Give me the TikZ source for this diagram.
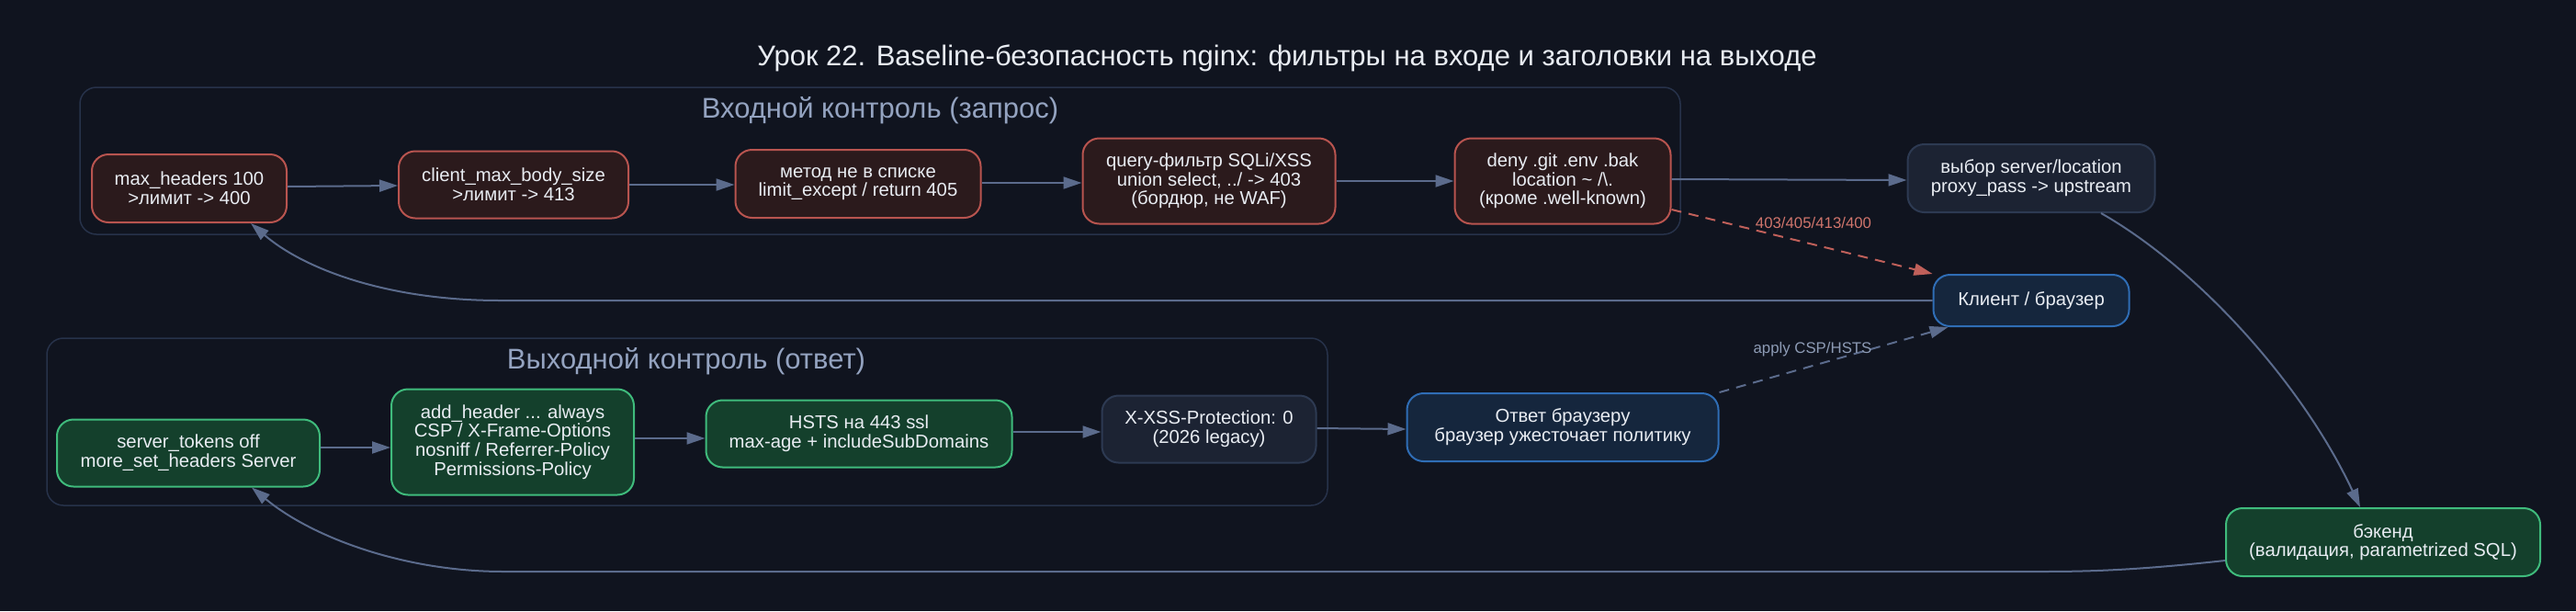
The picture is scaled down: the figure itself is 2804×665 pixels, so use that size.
\documentclass[tikz,border=0pt]{standalone}
\usepackage{fontspec}
\setmainfont{Liberation Sans}
\usetikzlibrary{arrows.meta,calc}
\definecolor{bgc}{HTML}{10141F}
\definecolor{txtc}{HTML}{E8ECF2}
\definecolor{clline}{HTML}{27324A}
\definecolor{cllabel}{HTML}{94A3C0}
\definecolor{redfill}{HTML}{2B1A1C}
\definecolor{redline}{HTML}{B8544F}
\definecolor{greenfill}{HTML}{14402C}
\definecolor{greenline}{HTML}{3FBB7C}
\definecolor{bluefill}{HTML}{15263D}
\definecolor{blueline}{HTML}{2F6DB5}
\definecolor{greyfill}{HTML}{1C2333}
\definecolor{greyline}{HTML}{2D3A52}
\definecolor{edgec}{HTML}{5B6B8C}
\definecolor{rededge}{HTML}{C0605A}
\definecolor{redlab}{HTML}{D0756C}
\definecolor{edgelab}{HTML}{8D9BB5}
\newcommand\myNodeFont{\fontsize{20.3}{20.7}\selectfont}
\newcommand\myEdgeFont{\fontsize{16.8}{18}\selectfont}
\newcommand\myClFont{\fontsize{31}{34}\selectfont}
\newcommand\myTitleFont{\fontsize{31}{34}\selectfont}
\tikzset{
  box/.style={draw, rounded corners=18pt, line width=2pt, align=center, font=\myNodeFont, text=txtc, inner sep=0pt},
  redbox/.style={box, fill=redfill, draw=redline},
  greenbox/.style={box, fill=greenfill, draw=greenline},
  bluebox/.style={box, fill=bluefill, draw=blueline},
  greybox/.style={box, fill=greyfill, draw=greyline},
  cluster/.style={draw=clline, line width=1.5pt, rounded corners=18pt, inner sep=0pt},
  cllab/.style={font=\myClFont, text=cllabel, inner sep=0pt},
  conn/.style={draw=edgec, line width=2pt, -{Triangle[length=20pt,width=13pt]}},
  dashconn/.style={conn, dash pattern=on 11pt off 8pt},
  reddash/.style={dashconn, draw=rededge, -{Triangle[length=20pt,width=13pt,fill=rededge]}},
  elab/.style={font=\myEdgeFont, inner sep=0pt}
}
\begin{document}
\begin{tikzpicture}[x=1pt,y=-1pt]
\fill[bgc] (0,0) rectangle (2804,665);
\useasboundingbox (0,0) rectangle (2804,665);

% title
\node[font=\myTitleFont, text=txtc, inner sep=0pt] (title) at (1401,63) {Урок 22. Baseline-безопасность nginx: фильтры на входе и заголовки на выходе};

% clusters
\node[cluster, minimum width=1742pt, minimum height=160pt] (C1) at (958,175) {};
\node[cllab] (C1l) at (958,120) {Входной контроль (запрос)};
\node[cluster, minimum width=1394pt, minimum height=182pt] (C2) at (748,459) {};
\node[cllab] (C2l) at (747,393) {Выходной контроль (ответ)};

% request row
\node[redbox, minimum width=212pt, minimum height=74pt] (N1) at (206,205) {max\_headers 100\\>лимит -> 400};
\node[redbox, minimum width=250pt, minimum height=73pt] (N2) at (559,201) {client\_max\_body\_size\\>лимит -> 413};
\node[redbox, minimum width=267pt, minimum height=74pt] (N3) at (934,200) {метод не в списке\\limit\_except / return 405};
\node[redbox, minimum width=275pt, minimum height=93pt] (N4) at (1316,197) {query-фильтр SQLi/XSS\\union select, ../ -> 403\\(бордюр, не WAF)};
\node[redbox, minimum width=235pt, minimum height=93pt] (N5) at (1701,197) {deny .git .env .bak\\location \textasciitilde{} /\textbackslash.\\(кроме .well-known)};
\node[greybox, minimum width=269pt, minimum height=74pt] (N6) at (2211,194) {выбор server/location\\proxy\_pass -> upstream};
\node[bluebox, minimum width=213pt, minimum height=56pt] (N7) at (2211,327) {Клиент / браузер};
\node[greenbox, minimum width=342pt, minimum height=74pt] (N8) at (2594,590) {бэкенд\\(валидация, parametrized SQL)};

% response row
\node[greenbox, minimum width=286pt, minimum height=73pt] (O1) at (205,493) {server\_tokens off\\more\_set\_headers Server};
\node[greenbox, minimum width=264pt, minimum height=115pt] (O2) at (558,481) {add\_header ... always\\CSP / X-Frame-Options\\nosniff / Referrer-Policy\\Permissions-Policy};
\node[greenbox, minimum width=333pt, minimum height=73pt] (O3) at (935,472) {HSTS на 443 ssl\\max-age + includeSubDomains};
\node[greybox, minimum width=233pt, minimum height=73pt] (O4) at (1316,467) {X-XSS-Protection: 0\\(2026 legacy)};
\node[bluebox, minimum width=339pt, minimum height=74pt] (O5) at (1701,465) {Ответ браузеру\\браузер ужесточает политику};

% request edges
\draw[conn] ($(N1.east)+(0,-2)$) -- ($(N2.west)+(0,1)$);
\draw[conn] (N2.east) -- ($(N3.west)+(0,1)$);
\draw[conn] ($(N3.east)+(0,-1)$) -- ($(N4.west)+(0,2)$);
\draw[conn] (N4.east) -- (N5.west);
\draw[conn] ($(N5.east)+(0,-2)$) -- ($(N6.west)+(0,2)$);
\draw[conn] ($(N6.south)+(76,0)$) .. controls (2391,291) and (2506,417) .. ($(N8.north)+(-25,0)$);
\draw[reddash] ($(N5.east)+(0,31)$) -- (N7.north west);
\node[elab, text=redlab] (L1) at (1974,242) {403/405/413/400};
\coordinate (K1) at (544,327);
\draw[conn] (N7.west) -- (K1) .. controls (420,327) and (330,292) .. ($(N1.south)+(67,0)$);

% response edges
\draw[conn] ($(O1.east)+(0,-6)$) -- ($(O2.west)+(0,6)$);
\draw[conn] ($(O2.east)+(0,-4)$) -- ($(O3.west)+(0,5)$);
\draw[conn] ($(O3.east)+(0,-2)$) -- ($(O4.west)+(0,3)$);
\draw[conn] ($(O4.east)+(0,-1)$) -- ($(O5.west)+(0,2)$);
\draw[dashconn] (O5.north east) -- ($(N7.south west)+(17,0)$);
\node[elab, text=edgelab] (L2) at (1973,380) {apply CSP/HSTS};
\coordinate (K2) at (2223,622);
\coordinate (K3) at (548,622);
\draw[conn] ($(N8.west)+(0,20)$) .. controls (2330,620) and (2280,622) .. (K2) -- (K3) .. controls (440,622) and (340,585) .. ($(O1.south)+(69,0)$);
\end{tikzpicture}
\end{document}
